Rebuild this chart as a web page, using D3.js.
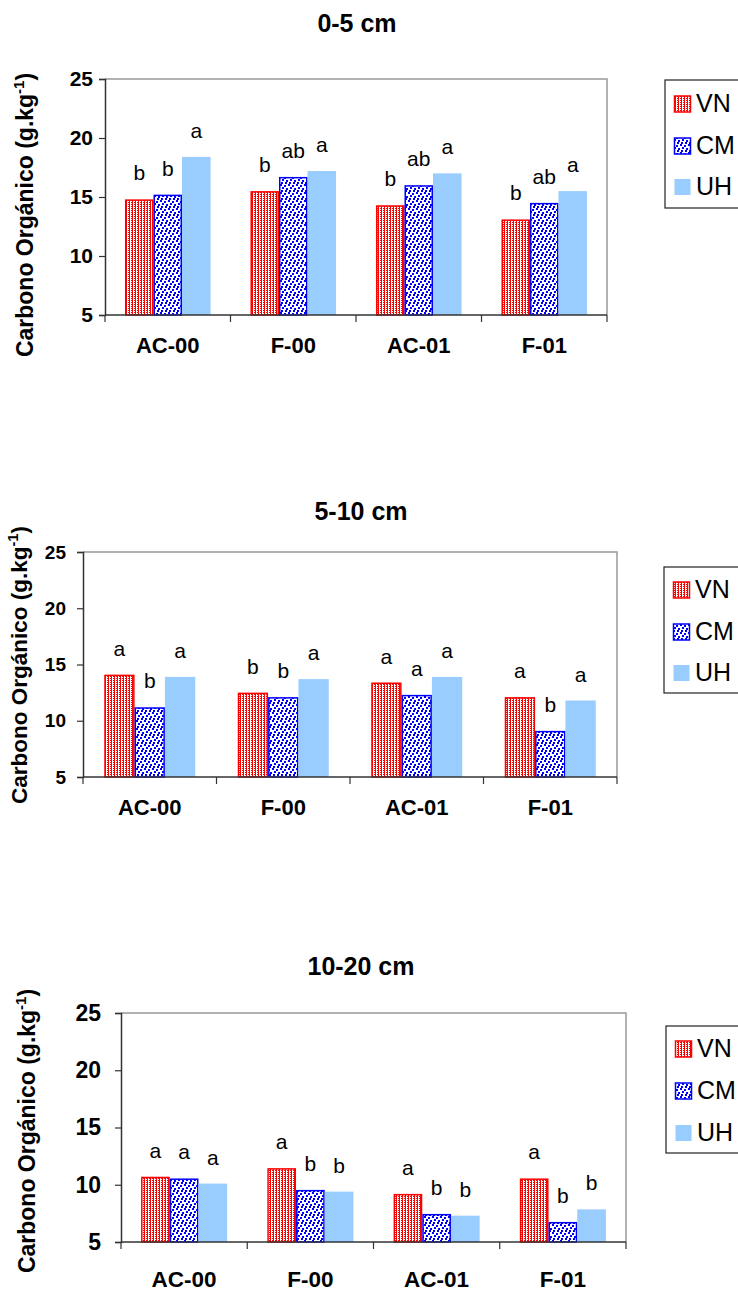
<!DOCTYPE html>
<html>
<head>
    <title>Carbono Organico</title>
    <script src="https://cdn.jsdelivr.net/npm/d3@7/dist/d3.min.js"></script>
    <style>
        body { margin: 0; background: white; }
        text { font-family: "Liberation Sans", Arial, sans-serif; }
    </style>
</head>
<body>
    <svg width="738" height="1293"></svg>
    <script>
        // data
        const categories = ["AC-00", "F-00", "AC-01", "F-01"];
        const series = ["VN", "CM", "UH"];
        const yTicks = [5, 10, 15, 20, 25];
        const depths = ["0-5 cm", "5-10 cm", "10-20 cm"];

        const vn_0_5 = [14.8, 15.5, 14.3, 13.1];
        const cm_0_5 = [15.2, 16.7, 16.0, 14.5];
        const uh_0_5 = [18.4, 17.2, 17.0, 15.5];
        const let_0_5 = [["b", "b", "a"], ["b", "ab", "a"], ["b", "ab", "a"], ["b", "ab", "a"]];

        const vn_5_10 = [14.1, 12.5, 13.4, 12.1];
        const cm_5_10 = [11.2, 12.1, 12.3, 9.1];
        const uh_5_10 = [13.9, 13.7, 13.9, 11.8];
        const let_5_10 = [["a", "b", "a"], ["b", "b", "a"], ["a", "a", "a"], ["a", "b", "a"]];

        const vn_10_20 = [10.7, 11.45, 9.2, 10.55];
        const cm_10_20 = [10.55, 9.55, 7.45, 6.75];
        const uh_10_20 = [10.1, 9.4, 7.3, 7.85];
        const let_10_20 = [["a", "a", "a"], ["a", "b", "b"], ["a", "b", "b"], ["a", "b", "b"]];

        const svg = d3.select('svg');
        const defs = svg.append('defs');

        // VN: fine red dot texture
        const pVN = defs.append('pattern').attr('id', 'pVN')
            .attr('patternUnits', 'userSpaceOnUse').attr('width', 3).attr('height', 2);
        pVN.append('rect').attr('width', 3).attr('height', 2).attr('fill', 'white');
        pVN.append('rect').attr('x', 0).attr('width', 1).attr('height', 2).attr('fill', '#ff0000');
        pVN.append('rect').attr('x', 2).attr('y', 0).attr('width', 1).attr('height', 1).attr('fill', '#ff0000');

        // CM: coarser blue squares
        const pCM = defs.append('pattern').attr('id', 'pCM')
            .attr('patternUnits', 'userSpaceOnUse').attr('width', 8).attr('height', 8);
        pCM.append('rect').attr('width', 8).attr('height', 8).attr('fill', 'white');
        [[0, 0], [4, 1], [2, 3], [6, 4], [1, 6], [5, 6]].forEach(p => {
            pCM.append('rect').attr('x', p[0]).attr('y', p[1])
                .attr('width', 2).attr('height', 2).attr('fill', '#0000ff');
        });

        const fills = { VN: 'url(#pVN)', CM: 'url(#pCM)', UH: '#99ccff' };
        const strokes = { VN: '#ff0000', CM: '#0000ff', UH: 'none' };

        const panels = [
            { values: [vn_0_5, cm_0_5, uh_0_5], letters: let_0_5, left: 105, right: 607, top: 79, bottom: 315,
              titleX: 357, titleY: 32, ylabX: 25, ylabY: 215, ylabSize: 23,
              catY: 353, catSize: 22, tickSize: 21, tickPad: 6,
              legY: 80, legH: 128, legX: 665, legRows: [104, 146, 187] },
            { values: [vn_5_10, cm_5_10, uh_5_10], letters: let_5_10, left: 83, right: 617, top: 552, bottom: 777,
              titleX: 361, titleY: 520, ylabX: 19, ylabY: 665, ylabSize: 22.5,
              catY: 815, catSize: 22, tickSize: 19, tickPad: 11,
              legY: 567, legH: 126, legX: 664, legRows: [590, 632, 673] },
            { values: [vn_10_20, cm_10_20, uh_10_20], letters: let_10_20, left: 121, right: 626, top: 1013, bottom: 1242,
              titleX: 361, titleY: 975, ylabX: 27, ylabY: 1131, ylabSize: 23,
              catY: 1287, catSize: 22.5, tickSize: 23, tickPad: 14,
              legY: 1026, legH: 127, legX: 666, legRows: [1049, 1091, 1133] }
        ];

        panels.forEach((p, i) => drawPanel(p, depths[i]));

        function drawPanel(p, title) {
            const g = svg.append('g');

            const x = d3.scaleBand().domain(categories).range([p.left, p.right]).paddingInner(0).paddingOuter(0);
            const xs = d3.scaleBand().domain(series).range([0, x.bandwidth()]).paddingInner(0).paddingOuter(0.7);
            const y = d3.scaleLinear().domain([5, 25]).range([p.bottom, p.top]);

            // title
            g.append('text')
                .attr('x', p.titleX).attr('y', p.titleY)
                .attr('text-anchor', 'middle').attr('font-weight', 'bold').attr('font-size', 25)
                .text(title);

            // plot border (top and right grey)
            g.append('path')
                .attr('d', `M${p.left},${p.top}H${p.right}V${p.bottom}`)
                .attr('fill', 'none').attr('stroke', '#999').attr('stroke-width', 1.5);

            // bars
            series.forEach((s, si) => {
                const inset = s === 'UH' ? 0 : 0.75;
                g.selectAll(null).data(p.values[si]).enter().append('rect')
                    .attr('x', (d, ci) => x(categories[ci]) + xs(s) + inset)
                    .attr('y', d => y(d) + inset)
                    .attr('width', xs.bandwidth() - 2 * inset)
                    .attr('height', d => y(5) - y(d) - inset)
                    .attr('fill', fills[s])
                    .attr('stroke', strokes[s]).attr('stroke-width', 1.5);

                g.selectAll(null).data(p.values[si]).enter().append('text')
                    .attr('x', (d, ci) => x(categories[ci]) + xs(s) + xs.bandwidth() / 2)
                    .attr('y', d => y(d) - 19)
                    .attr('text-anchor', 'middle').attr('font-size', 21)
                    .text((d, ci) => p.letters[ci][si]);
            });

            // y axis
            const yAxis = g.append('g')
                .attr('transform', `translate(${p.left},0)`)
                .call(d3.axisLeft(y).tickValues(yTicks).tickSize(6).tickPadding(p.tickPad));
            yAxis.select('.domain').attr('stroke', '#333').attr('stroke-width', 1.5);
            yAxis.selectAll('.tick line').attr('stroke', '#333').attr('stroke-width', 1.2);
            yAxis.selectAll('.tick text')
                .attr('font-family', '"Liberation Sans", Arial, sans-serif')
                .attr('font-weight', 'bold').attr('font-size', p.tickSize).attr('fill', 'black');

            // x axis: ticks between categories
            const xAxisG = g.append('g');
            xAxisG.append('line')
                .attr('x1', p.left).attr('x2', p.right).attr('y1', p.bottom).attr('y2', p.bottom)
                .attr('stroke', '#333').attr('stroke-width', 1.5);
            const bounds = categories.map(c => x(c)).concat([p.right]);
            xAxisG.selectAll(null).data(bounds).enter().append('line')
                .attr('x1', d => d).attr('x2', d => d)
                .attr('y1', p.bottom).attr('y2', p.bottom + 7)
                .attr('stroke', '#333').attr('stroke-width', 1.2);
            xAxisG.selectAll(null).data(categories).enter().append('text')
                .attr('x', d => x(d) + x.bandwidth() / 2)
                .attr('y', p.catY)
                .attr('text-anchor', 'middle').attr('font-weight', 'bold').attr('font-size', p.catSize)
                .text(d => d);

            // y label
            const yl = g.append('text')
                .attr('transform', `translate(${p.ylabX},${p.ylabY}) rotate(-90)`)
                .attr('text-anchor', 'middle').attr('dy', '0.35em')
                .attr('font-weight', 'bold').attr('font-size', p.ylabSize);
            yl.append('tspan').text('Carbono Orgánico (g.kg');
            yl.append('tspan').attr('font-size', p.ylabSize * 0.65).attr('dy', '-0.6em').text('-1');
            yl.append('tspan').attr('dy', '0.4em').text(')');

            // legend (cut at the right edge)
            g.append('rect')
                .attr('x', p.legX).attr('y', p.legY).attr('width', 100).attr('height', p.legH)
                .attr('fill', 'white').attr('stroke', '#222').attr('stroke-width', 1.2);
            series.forEach((s, si) => {
                const cy = p.legRows[si];
                g.append('rect')
                    .attr('x', p.legX + 9.5).attr('y', cy - 8).attr('width', 16).attr('height', 16)
                    .attr('fill', fills[s]).attr('stroke', strokes[s]).attr('stroke-width', 1.5);
                g.append('text')
                    .attr('x', p.legX + 31).attr('y', cy - 1).attr('dy', '0.36em')
                    .attr('font-size', 25)
                    .text(s);
            });
        }
    </script>
</body>
</html>
